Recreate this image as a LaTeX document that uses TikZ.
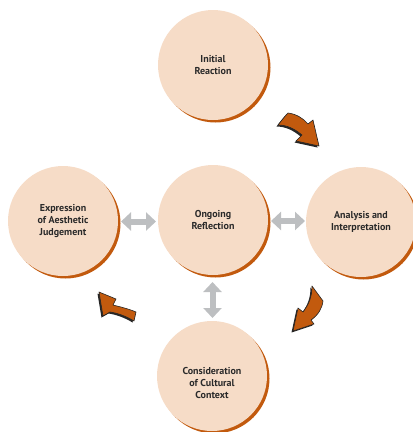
\documentclass[tikz,border=0pt]{standalone}
\usepackage{fontspec}
\setmainfont{PT Sans}
\usetikzlibrary{arrows.meta}
\definecolor{peach}{HTML}{F6DCC7}
\definecolor{rust}{HTML}{C25A0E}
\definecolor{greyarr}{HTML}{BDBFC1}
\definecolor{txt}{HTML}{2A2A2A}
\tikzset{
  stage/.style={circle, minimum size=110pt, inner sep=0pt, fill=peach, text=txt,
    font=\bfseries\fontsize{10}{12}\selectfont, align=center},
  stagetext/.style={text=txt, font=\bfseries\fontsize{10}{12}\selectfont, align=center, inner sep=0pt},
  shadowc/.style={circle, minimum size=110pt, inner sep=0pt, fill=rust},
  twoway/.style={draw=greyarr, line width=6pt, {Triangle[width=18pt,length=10pt]}-{Triangle[width=18pt,length=10pt]}},
  cyclearr/.style={fill=rust, draw=black!85, line width=0.6pt, line join=round},
  cycleshadow/.style={fill=black!85}
}
\begin{document}
\begin{tikzpicture}[x=1pt,y=-1pt]
\useasboundingbox (0,0) rectangle (413,432);
% shadows
\node[shadowc] at (215.5,67.5) {};
\node[shadowc] at (215.5,222.5) {};
\node[shadowc] at (65.5,223.5) {};
\node[shadowc] at (363.5,224.5) {};
\node[shadowc] at (214.5,378.5) {};
% circles
\node[stage] (top) at (213,65) {Initial\\Reaction};
\node[stage] (mid) at (213,220) {Ongoing\\Reflection};
\node[stage] (left) at (63,221) {Expression\\of Aesthetic\\Judgement};
\node[stage] (right) at (361,222) {Analysis and\\Interpretation};
\node[stage] (bot) at (212,376) {};
\node[stagetext] (bottxt) at (212,383) {Consideration\\of Cultural\\Context};
% grey double arrows
\coordinate (mw) at (156,221.5);
\coordinate (le) at (121,221.5);
\coordinate (me) at (271,221);
\coordinate (rw) at (305,221);
\coordinate (ms) at (212.5,282);
\coordinate (bn) at (212.5,318);
\draw[twoway] (le) -- (mw);
\draw[twoway] (me) -- (rw);
\draw[twoway] (ms) -- (bn);
% curved arrows
\def\arrA{(278,125) .. controls (282,120) and (285,116) .. (288,113) .. controls (296,114) and (303,118) .. (308,124) -- (313,120) -- (319,146) -- (296,141) -- (302,135) .. controls (295,129) and (287,125) .. cycle}
\def\arrB{(312,286) -- (323,301) .. controls (322,309) and (318,315) .. (311,320) -- (314,324) -- (293,331) -- (298,308) -- (303,312) .. controls (309,304) and (312,297) .. cycle}
\def\arrC{(99,292) -- (116,299) -- (113,305) .. controls (121,307) and (129,309) .. (136,312) -- (134,321) .. controls (126,316) and (117,313) .. (110,312) -- (103,316) -- cycle}
\fill[cycleshadow, shift={(-1.5,1.5)}] \arrA;
\path[cyclearr] \arrA;
\fill[cycleshadow, shift={(-1.5,1.5)}] \arrB;
\path[cyclearr] \arrB;
\fill[cycleshadow, shift={(-1.5,1.5)}] \arrC;
\path[cyclearr] \arrC;
\end{tikzpicture}
\end{document}
